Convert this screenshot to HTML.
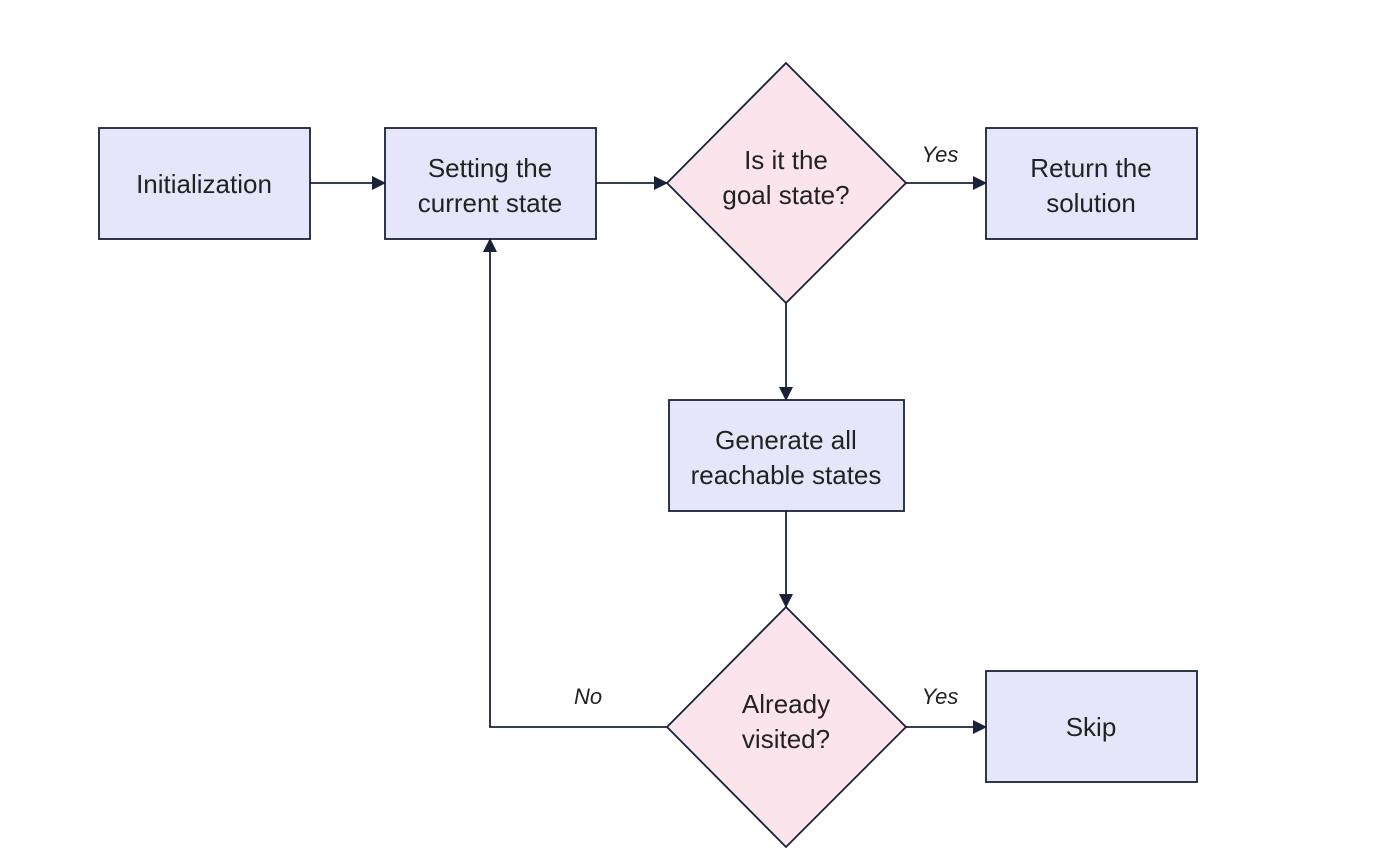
<!DOCTYPE html>
<html><head><meta charset="utf-8"><style>
html,body{margin:0;padding:0;background:#fff;}
svg{display:block;}
text{font-family:"Liberation Sans",sans-serif;font-size:26px;fill:#222;}
.l{font-style:italic;font-size:22px;}
</style></head><body>
<svg width="1398" height="857" viewBox="0 0 1398 857">
<defs><marker id="a" markerWidth="14" markerHeight="14" refX="13" refY="7" orient="auto" markerUnits="userSpaceOnUse"><path d="M0,0 L14,7 L0,14 z" fill="#1a2238"/></marker></defs>
<g stroke="#1a2238" stroke-width="1.8">
<rect x="99" y="128" width="211" height="111" fill="#e6e6fa"/>
<rect x="385" y="128" width="211" height="111" fill="#e6e6fa"/>
<rect x="986" y="128" width="211" height="111" fill="#e6e6fa"/>
<rect x="669" y="400" width="235" height="111" fill="#e6e6fa"/>
<rect x="986" y="671" width="211" height="111" fill="#e6e6fa"/>
<polygon points="786,63 906,183 786,303 667,183" fill="#fce4ec"/>
<polygon points="786,607 906,727 786,847 667,727" fill="#fce4ec"/>
<g fill="none" marker-end="url(#a)">
<line x1="310" y1="183" x2="385" y2="183"/>
<line x1="596" y1="183" x2="667" y2="183"/>
<line x1="906" y1="183" x2="986" y2="183"/>
<line x1="786" y1="303" x2="786" y2="400"/>
<line x1="786" y1="511" x2="786" y2="607"/>
<line x1="906" y1="727" x2="986" y2="727"/>
<polyline points="667,727 490,727 490,239"/>
</g></g>
<g text-anchor="middle">
<text x="204" y="193">Initialization</text>
<text x="490" y="177">Setting the</text>
<text x="490" y="212">current state</text>
<text x="786" y="169">Is it the</text>
<text x="786" y="204">goal state?</text>
<text x="1091" y="177">Return the</text>
<text x="1091" y="212">solution</text>
<text x="786" y="449">Generate all</text>
<text x="786" y="484">reachable states</text>
<text x="786" y="713">Already</text>
<text x="786" y="748">visited?</text>
<text x="1091" y="736">Skip</text>
<text class="l" x="940" y="162">Yes</text>
<text class="l" x="940" y="704">Yes</text>
<text class="l" x="588" y="704">No</text>
</g>
</svg>
</body></html>
